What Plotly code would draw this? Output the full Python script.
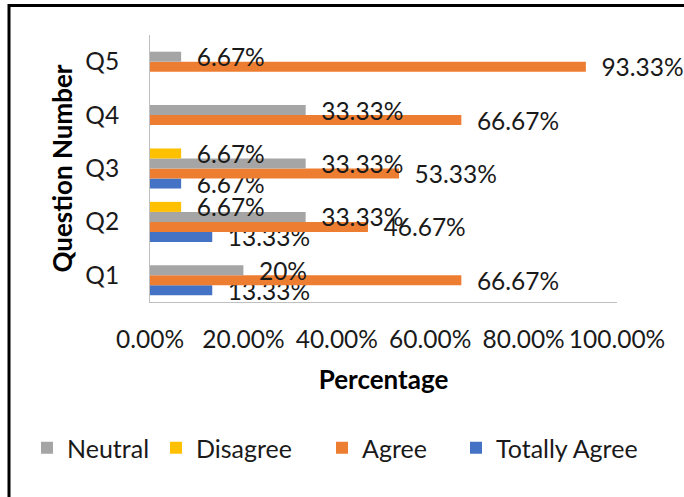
import plotly.graph_objects as go

questions = ["Q1", "Q2", "Q3", "Q4", "Q5"]
totally_agree = [13.33, 13.33, 6.67, None, None]
agree = [66.67, 46.67, 53.33, 66.67, 93.33]
neutral = [20, 33.33, 33.33, 33.33, 6.67]
disagree = [None, 6.67, 6.67, None, None]

x_ticks = [0, 20, 40, 60, 80, 100]
x_tick_text = ["0.00%", "20.00%", "40.00%", "60.00%", "80.00%", "100.00%"]

FONT = "Lato"
FS = 24.5
FS_LEG = 25
FS_TITLE = 26
TXT = "#1a1a1a"

# plot area in pixels (for placing legends/border relative to it)
W, H = 684, 497
L, R, T, B = 150, 67, 35, 195
PW, PH = W - L - R, H - T - B


def px_to_paper_x(px):
    return (px - L) / PW


def px_to_paper_y(py):
    return (H - B - py) / PH


def labels(vals):
    return ["\u00a0\u00a0" + (f"{v:g}%") if v is not None else "" for v in vals]


series = [
    ("Totally Agree", totally_agree, "#4472C4", "legend4"),
    ("Agree", agree, "#ED7D31", "legend3"),
    ("Neutral", neutral, "#A5A5A5", "legend"),
    ("Disagree", disagree, "#FFC000", "legend2"),
]

fig = go.Figure()
for name, vals, color, leg in series:
    fig.add_trace(go.Bar(
        name=name, y=questions, x=vals, orientation="h",
        marker=dict(color=color, line=dict(width=0)),
        text=labels(vals), textposition="outside", constraintext="none",
        textfont=dict(family=FONT, size=FS, color=TXT),
        cliponaxis=False, legend=leg,
    ))

legend_text_px = {"legend": 67, "legend2": 196, "legend3": 362, "legend4": 496}
legend_y = 1 - 448 / H
leg_layout = {}
for key, tx in legend_text_px.items():
    leg_layout[key] = dict(
        xref="container", yref="container",
        x=(tx - 40) / W, xanchor="left",
        y=legend_y, yanchor="middle",
        orientation="h", bgcolor="rgba(0,0,0,0)",
        font=dict(family=FONT, size=FS_LEG, color=TXT),
    )

fig.update_layout(
    width=W, height=H,
    margin=dict(l=L, r=R, t=T, b=B),
    paper_bgcolor="white", plot_bgcolor="white",
    barmode="group", bargap=0.25, bargroupgap=0,
    font=dict(family=FONT, size=FS, color=TXT),
    showlegend=True,
    **leg_layout,
    xaxis=dict(
        range=[0, 100], tickvals=x_ticks, ticktext=x_tick_text,
        showgrid=False, zeroline=False, showline=True, linecolor="#BFBFBF", linewidth=1,
        ticks="outside", ticklen=16, tickcolor="rgba(0,0,0,0)",
        tickfont=dict(family=FONT, size=FS, color=TXT),
        title=dict(text="<b>Percentage</b>", font=dict(family=FONT, size=FS_TITLE, color="black"), standoff=18),
        fixedrange=True,
    ),
    yaxis=dict(
        categoryorder="array", categoryarray=questions,
        showgrid=False, zeroline=False, showline=True, linecolor="#BFBFBF", linewidth=1,
        ticks="outside", ticklen=25, tickcolor="rgba(0,0,0,0)",
        tickfont=dict(family=FONT, size=FS, color=TXT),
        title=dict(text="<b>Question Number</b>", font=dict(family=FONT, size=FS_TITLE, color="black"), standoff=5),
        fixedrange=True,
    ),
    shapes=[dict(
        type="rect", xref="paper", yref="paper",
        x0=px_to_paper_x(9), x1=px_to_paper_x(W + 20),
        y0=px_to_paper_y(H + 20), y1=px_to_paper_y(5.5),
        line=dict(color="black", width=3), fillcolor="rgba(0,0,0,0)", layer="above",
    )],
)

fig.write_html(
    "out.html",
    config={"displayModeBar": False},
    post_script="document.body.style.margin='0';document.body.style.overflow='hidden';",
)
